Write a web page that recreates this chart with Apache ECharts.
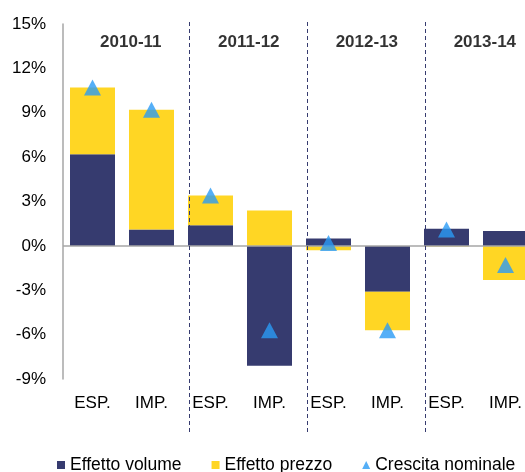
<!DOCTYPE html>
<html style="height:100%">
<head>
    <meta charset="utf-8">
    <title>ECharts</title>
    <script src="https://cdn.jsdelivr.net/npm/echarts@6/dist/echarts.min.js"></script>
</head>
<body style="height:100%;margin:0;overflow:hidden">
    <!-- il grafico originale è tagliato a destra: il div è più largo della finestra -->
    <div id="main" style="width:535px;height:472px;"></div>
    <script type="text/javascript">
        // dati
        var categorie = ['ESP.', 'IMP.', 'ESP.', 'IMP.', 'ESP.', 'IMP.', 'ESP.', 'IMP.'];
        var periodi = ['2010-11', '2011-12', '2012-13', '2013-14'];
        var effettoVolume = [6.2, 1.1, 1.4, -8.1, 0.5, -3.1, 1.15, 1.0];
        var effettoPrezzo = [4.5, 8.1, 2.0, 2.4, -0.3, -2.6, -0.05, -2.3];
        var crescitaNominale = [10.7, 9.2, 3.4, -5.7, 0.2, -5.7, 1.1, -1.3];

        var blu = '#363b6f';
        var giallo = '#ffd624';
        var azzurro = '#2a9bf5';
        var font = 'Liberation Sans, Arial, sans-serif';

        var myChart = echarts.init(document.getElementById('main'));

        var option = {
            backgroundColor: '#fff',
            animation: false,
            textStyle: { fontFamily: font },
            legend: {
                data: [
                    { name: 'Effetto volume', icon: 'rect' },
                    { name: 'Effetto prezzo', icon: 'rect' },
                    { name: 'Crescita nominale', icon: 'triangle' }
                ],
                left: 52,
                top: 451,
                itemWidth: 8,
                itemHeight: 8,
                itemGap: 30,
                textStyle: { fontSize: 17.5, color: '#000', fontFamily: font }
            },
            grid: [{
                left: 63,
                right: 0,
                top: 24,
                bottom: 93
            }, {
                left: 63,
                right: 0,
                top: 22,
                bottom: 40
            }],
            xAxis: [{
                type: 'category',
                data: categorie,
                axisLine: { show: false, onZero: false },
                axisTick: { show: false },
                axisLabel: {
                    margin: 16,
                    fontSize: 17,
                    color: '#000',
                    fontFamily: font
                }
            }, {
                gridIndex: 1,
                type: 'value',
                min: 0,
                max: 8,
                show: false
            }],
            yAxis: [{
                type: 'value',
                min: -9,
                max: 15,
                interval: 3,
                axisLine: { show: true, lineStyle: { color: '#a6a6a6', width: 1.5 } },
                axisTick: { show: false },
                splitLine: { show: false },
                axisLabel: {
                    formatter: '{value}%',
                    margin: 17,
                    fontSize: 17,
                    color: '#000',
                    fontFamily: font
                }
            }, {
                gridIndex: 1,
                type: 'value',
                min: 0,
                max: 1,
                show: false
            }],
            series: [{
                name: 'Effetto volume',
                type: 'bar',
                stack: 'tot',
                barWidth: 45,
                itemStyle: { color: blu },
                data: effettoVolume,
                markLine: {
                    silent: true,
                    symbol: 'none',
                    label: { show: false },
                    lineStyle: { color: '#a6a6a6', width: 1.5, type: 'solid' },
                    data: [{ yAxis: 0 }]
                },
                z: 2
            }, {
                name: 'Effetto prezzo',
                type: 'bar',
                stack: 'tot',
                barWidth: 45,
                itemStyle: { color: giallo },
                data: effettoPrezzo,
                z: 2
            }, {
                name: 'Crescita nominale',
                type: 'scatter',
                symbol: 'triangle',
                symbolSize: [17, 16],
                itemStyle: { color: azzurro },
                data: crescitaNominale,
                z: 5
            }, {
                // separatori e titoli dei periodi
                type: 'scatter',
                xAxisIndex: 1,
                yAxisIndex: 1,
                symbolSize: 0,
                silent: true,
                label: {
                    show: true,
                    position: 'inside',
                    formatter: function (p) { return periodi[p.dataIndex]; },
                    fontSize: 17,
                    fontWeight: 'bold',
                    color: '#000',
                    fontFamily: font
                },
                data: periodi.map(function (v, i) { return [1.15 + 2 * i, 0.951]; }),
                markLine: {
                    silent: true,
                    symbol: 'none',
                    label: { show: false },
                    lineStyle: { color: blu, width: 1, type: [4, 3] },
                    data: [{ xAxis: 2.14 }, { xAxis: 4.14 }, { xAxis: 6.14 }]
                }
            }]
        };

        myChart.setOption(option);
    </script>
</body>
</html>
